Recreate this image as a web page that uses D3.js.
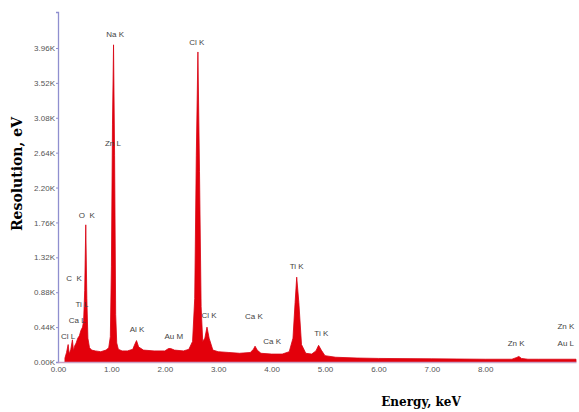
<!DOCTYPE html>
<html>
<head>
<meta charset="utf-8">
<script src="https://cdn.jsdelivr.net/npm/d3@7"></script>
<style>
  body { margin: 0; background: #fff; }
  svg { display: block; }
</style>
</head>
<body>
<div id="chart"></div>
<script>
// spectrum: energy (keV) and counts (thousands)
var energy = [0.13, 0.16, 0.19, 0.21, 0.24, 0.27, 0.29, 0.31, 0.34, 0.37, 0.40, 0.43, 0.46, 0.48, 0.50, 0.52, 0.54, 0.56, 0.59, 0.63, 0.70, 0.80, 0.90, 0.95, 0.98, 1.00, 1.02, 1.04, 1.06, 1.08, 1.10, 1.13, 1.20, 1.30, 1.40, 1.43, 1.47, 1.51, 1.60, 1.80, 2.00, 2.07, 2.11, 2.18, 2.35, 2.45, 2.52, 2.56, 2.59, 2.62, 2.65, 2.68, 2.71, 2.75, 2.79, 2.83, 2.90, 3.00, 3.20, 3.40, 3.60, 3.66, 3.69, 3.73, 3.80, 4.00, 4.20, 4.33, 4.40, 4.44, 4.47, 4.51, 4.56, 4.64, 4.75, 4.83, 4.88, 4.93, 5.00, 5.20, 5.60, 6.00, 7.00, 8.00, 8.50, 8.58, 8.63, 8.68, 8.80, 9.00, 9.70];
var counts = [0.05, 0.12, 0.22, 0.10, 0.16, 0.28, 0.14, 0.20, 0.24, 0.30, 0.33, 0.40, 0.44, 0.52, 0.90, 1.73, 0.80, 0.30, 0.18, 0.15, 0.14, 0.13, 0.15, 0.18, 0.32, 1.20, 3.00, 4.00, 2.60, 0.60, 0.24, 0.16, 0.14, 0.14, 0.16, 0.21, 0.27, 0.19, 0.15, 0.14, 0.14, 0.17, 0.17, 0.15, 0.14, 0.16, 0.26, 0.80, 2.60, 3.91, 2.40, 0.70, 0.26, 0.30, 0.44, 0.30, 0.15, 0.13, 0.12, 0.11, 0.12, 0.16, 0.20, 0.15, 0.11, 0.10, 0.10, 0.13, 0.30, 0.75, 1.07, 0.75, 0.22, 0.11, 0.10, 0.14, 0.21, 0.15, 0.08, 0.06, 0.05, 0.045, 0.04, 0.035, 0.035, 0.055, 0.07, 0.045, 0.035, 0.035, 0.035];

var yTicks = [0, 0.44, 0.88, 1.32, 1.76, 2.20, 2.64, 3.08, 3.52, 3.96];
var xTicks = [0, 1, 2, 3, 4, 5, 6, 7, 8];

// peak labels: text, energy and count where the label sits
var labelText = ["Na K", "Cl K", "Zn L", "O  K", "C  K", "Ti L", "Ca L", "Cl L", "Al K", "Au M", "Cl K", "Ca K", "Ca K", "Ti K", "Ti K", "Zn K", "Zn K", "Au L"];
var labelEnergy = [1.07, 2.60, 1.03, 0.54, 0.30, 0.45, 0.36, 0.19, 1.48, 2.17, 2.83, 3.67, 4.01, 4.47, 4.93, 8.58, 9.51, 9.51];
var labelCount = [4.14, 4.04, 2.76, 1.85, 1.06, 0.73, 0.53, 0.33, 0.42, 0.33, 0.59, 0.58, 0.26, 1.21, 0.37, 0.24, 0.45, 0.24];

var width = 579, height = 412;

var x = d3.scaleLinear().domain([0, 9.7]).range([58, 576]);
var y = d3.scaleLinear().domain([0, 4.414]).range([362, 12]);

var svg = d3.select("#chart").append("svg")
  .attr("width", width)
  .attr("height", height);

svg.append("rect").attr("width", width).attr("height", height).attr("fill", "#fff");

var data = energy.map(function (e, i) { return { e: e, c: counts[i] }; });

// the spectrum
var area = d3.area()
  .x(function (d) { return x(d.e); })
  .y0(y(0))
  .y1(function (d) { return y(d.c); });

svg.append("path")
  .datum(data)
  .attr("d", area)
  .attr("fill", "#e3000b")
  .attr("stroke", "#d80010")
  .attr("stroke-width", 0.8)
  .attr("stroke-linejoin", "round");

// Y axis
var yAxis = svg.append("g")
  .attr("transform", "translate(58,0)")
  .call(d3.axisLeft(y).tickValues(yTicks).tickSize(2).tickPadding(1)
    .tickFormat(function (d) { return d3.format(".2f")(d) + "K"; }));
yAxis.select(".domain").attr("stroke", "#8f8fcf").attr("stroke-width", 1.3);
yAxis.selectAll(".tick line").attr("stroke", "#8f8fcf");
yAxis.selectAll("text")
  .attr("fill", "#555")
  .style("font-family", "Liberation Sans Narrow, Liberation Sans, sans-serif")
  .style("font-size", "8px");

// X axis
var xAxis = svg.append("g")
  .attr("transform", "translate(0," + y(0) + ")")
  .call(d3.axisBottom(x).tickValues(xTicks).tickSize(0).tickPadding(4)
    .tickFormat(d3.format(".2f")));
xAxis.select(".domain").attr("stroke", "#c9a3c6").attr("stroke-width", 1.5);
xAxis.selectAll("text")
  .attr("fill", "#555")
  .style("font-family", "Liberation Sans Narrow, Liberation Sans, sans-serif")
  .style("font-size", "8px");

// peak labels
svg.append("g").selectAll("text")
  .data(labelText)
  .enter().append("text")
  .attr("x", function (d, i) { return x(labelEnergy[i]); })
  .attr("y", function (d, i) { return y(labelCount[i]) + 3; })
  .attr("text-anchor", "middle")
  .attr("fill", "#444")
  .style("font-family", "Liberation Sans Narrow, Liberation Sans, sans-serif")
  .style("font-size", "8px")
  .style("white-space", "pre")
  .text(function (d) { return d; });

// axis titles
svg.append("text")
  .attr("transform", "translate(22,174) rotate(-90)")
  .attr("text-anchor", "middle")
  .style("font-family", "DejaVu Serif, serif")
  .style("font-weight", "bold")
  .style("font-size", "14px")
  .text("Resolution, eV");

svg.append("text")
  .attr("x", 421)
  .attr("y", 406)
  .attr("text-anchor", "middle")
  .style("font-family", "DejaVu Serif, serif")
  .style("font-weight", "bold")
  .style("font-size", "12px")
  .text("Energy, keV");
</script>
</body>
</html>
